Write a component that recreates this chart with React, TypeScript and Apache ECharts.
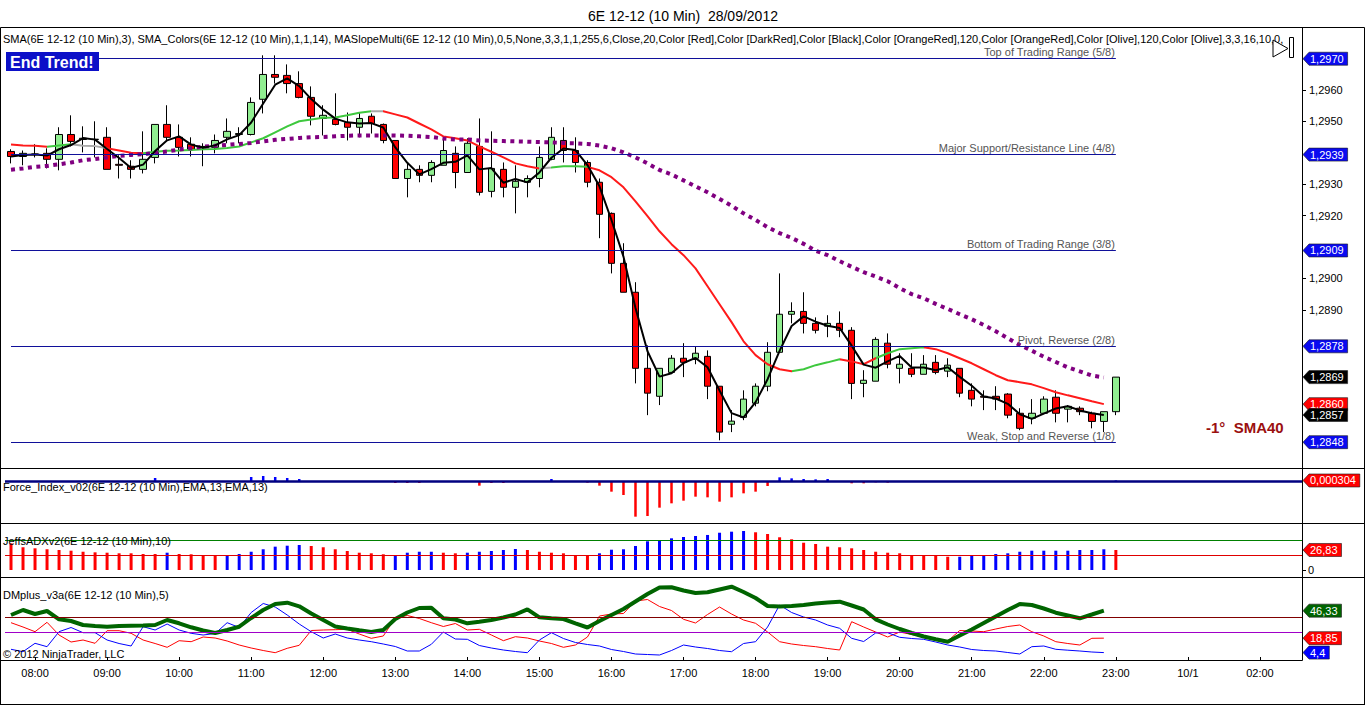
import React, { useEffect, useRef } from "react";
import * as echarts from "echarts";

const FONT = '"Liberation Sans", Arial, Helvetica, sans-serif';

// ---- time categories (10-minute bars; session break after 23:00) ----
function buildTimes(): string[] {
  const out: string[] = [];
  const pad = (n: number) => String(n).padStart(2, "0");
  for (let i = 0; i < 108; i++) {
    const m = i <= 92 ? 7 * 60 + 40 + 10 * i : 10 + 10 * (i - 93);
    const s = `${pad(Math.floor(m / 60) % 24)}:${pad(m % 60)}`;
    out.push(i > 92 && s === "01:00" ? "10/1" : s);
  }
  return out;
}
const times = buildTimes();

// ---- price bars ----
const opens = [
  1.29404, 1.29388, 1.29395, 1.29398, 1.29379, 1.29458, 1.29442, 1.29442, 1.29449, 1.29363,
  1.29357, 1.29347, 1.29385, 1.2949, 1.29449, 1.29427, 1.29417, 1.29417, 1.29449, 1.29458,
  1.29458, 1.2957, 1.29649, 1.29646, 1.2962, 1.29576, 1.29509, 1.29506, 1.29496, 1.29481,
  1.29516, 1.2949, 1.29439, 1.29318, 1.29347, 1.29328, 1.2936, 1.29398, 1.29337, 1.2942,
  1.29277, 1.29347, 1.2929, 1.29306, 1.29318, 1.29379, 1.29439, 1.29407, 1.29369, 1.29306,
  1.29207, 1.29048, 1.28956, 1.28714, 1.28625, 1.28701, 1.28746, 1.28746, 1.28752, 1.28657,
  1.28536, 1.28558, 1.28603, 1.28657, 1.28765, 1.28886, 1.28895, 1.28857, 1.28848, 1.28857,
  1.28835, 1.28666, 1.28673, 1.28794, 1.28714, 1.28714, 1.28695, 1.28733, 1.28705, 1.28714,
  1.28644, 1.28625, 1.28625, 1.28632, 1.28571, 1.28555, 1.28571, 1.28622, 1.28584, 1.28587,
  1.28571, 1.28545, 1.28576,
];
const closes = [
  1.29388, 1.29398, 1.29396, 1.29379, 1.29458, 1.29436, 1.29446, 1.29443, 1.29347, 1.2936,
  1.29347, 1.29379, 1.2949, 1.29449, 1.29417, 1.29411, 1.2942, 1.29439, 1.29468, 1.29461,
  1.2956, 1.29649, 1.2964, 1.2962, 1.29576, 1.29516, 1.29519, 1.2949, 1.29481, 1.29509,
  1.29493, 1.29439, 1.29318, 1.29347, 1.29328, 1.29369, 1.29407, 1.29337, 1.2943, 1.29274,
  1.2935, 1.2929, 1.29309, 1.29318, 1.29385, 1.29449, 1.29407, 1.29369, 1.29306, 1.29204,
  1.29048, 1.28956, 1.28714, 1.28635, 1.28714, 1.28746, 1.28733, 1.28762, 1.28657, 1.28511,
  1.28546, 1.28616, 1.28657, 1.28765, 1.28886, 1.28895, 1.28857, 1.28835, 1.28857, 1.28835,
  1.28666, 1.28676, 1.28806, 1.28727, 1.28727, 1.28695, 1.28727, 1.28701, 1.28724, 1.28635,
  1.28616, 1.28622, 1.28616, 1.28565, 1.28523, 1.28571, 1.28616, 1.28571, 1.28593, 1.28576,
  1.28545, 1.28576, 1.28686,
];
const lows = [
  1.29366, 1.2936, 1.29385, 1.2935, 1.29344, 1.2942, 1.29401, 1.29385, 1.29347, 1.29318,
  1.29318, 1.29334, 1.29366, 1.29439, 1.29388, 1.29388, 1.29357, 1.29398, 1.2943, 1.2943,
  1.29455, 1.29525, 1.2962, 1.29589, 1.29573, 1.29487, 1.29455, 1.29487, 1.29439, 1.29449,
  1.29461, 1.2943, 1.29318, 1.29258, 1.29306, 1.29306, 1.2936, 1.29287, 1.29337, 1.29264,
  1.29258, 1.29258, 1.29207, 1.29258, 1.2929, 1.29376, 1.29369, 1.29337, 1.2929, 1.29128,
  1.29016, 1.28956, 1.28666, 1.28565, 1.28597, 1.28701, 1.28686, 1.28727, 1.28616, 1.28485,
  1.28511, 1.28549, 1.28593, 1.28641, 1.28765, 1.28857, 1.28825, 1.28825, 1.28813, 1.28813,
  1.28616, 1.28622, 1.28673, 1.28714, 1.28666, 1.28686, 1.28695, 1.28695, 1.28686, 1.28622,
  1.28593, 1.28581, 1.28581, 1.28555, 1.28517, 1.28536, 1.28571, 1.28542, 1.28542, 1.28565,
  1.28523, 1.28511, 1.28565,
];
const highs = [
  1.29411, 1.29407, 1.29427, 1.29414, 1.29481, 1.29519, 1.29484, 1.295, 1.29481, 1.29392,
  1.29376, 1.29468, 1.2949, 1.29551, 1.2949, 1.29449, 1.2943, 1.29458, 1.29509, 1.29481,
  1.29576, 1.2971, 1.2971, 1.29681, 1.29659, 1.29611, 1.29551, 1.29589, 1.29528, 1.29528,
  1.29525, 1.29493, 1.29439, 1.29366, 1.2936, 1.29376, 1.29446, 1.2942, 1.29446, 1.29509,
  1.29468, 1.29369, 1.2936, 1.29328, 1.2942, 1.29481, 1.29481, 1.29449, 1.29376, 1.29318,
  1.2921, 1.29112, 1.28988, 1.28787, 1.28714, 1.28756, 1.28794, 1.28784, 1.28771, 1.28657,
  1.28581, 1.28644, 1.28666, 1.28797, 1.29016, 1.28924, 1.28956, 1.28876, 1.28883, 1.28895,
  1.28845, 1.28708, 1.28813, 1.28825, 1.28762, 1.28762, 1.28756, 1.28756, 1.28746, 1.28714,
  1.28666, 1.28644, 1.28657, 1.28635, 1.28587, 1.28616, 1.28625, 1.28644, 1.28597, 1.28593,
  1.28576, 1.28576, 1.28686,
];

// SMA_Colors (14) as drawn
const sma14 = [
  1.29426, 1.29423, 1.29422, 1.29419, 1.29423, 1.29427, 1.29422, 1.29421, 1.29414, 1.29407,
  1.294, 1.29398, 1.29403, 1.29406, 1.29407, 1.29409, 1.29411, 1.29412, 1.29415, 1.2942,
  1.29433, 1.29446, 1.29465, 1.29484, 1.295, 1.29506, 1.29511, 1.29512, 1.29519, 1.29527,
  1.29532, 1.29532, 1.29522, 1.29512, 1.29493, 1.29474, 1.29452, 1.29446, 1.29439, 1.2942,
  1.29403, 1.29385, 1.29366, 1.29357, 1.2935, 1.29353, 1.29357, 1.29357, 1.29355, 1.29344,
  1.29322, 1.2929, 1.29245, 1.29198, 1.2915, 1.29109, 1.29074, 1.29032, 1.28975, 1.28918,
  1.28861, 1.288, 1.28756, 1.28727, 1.28711, 1.28705, 1.28711, 1.28724, 1.28733, 1.28743,
  1.28736, 1.28727, 1.28746, 1.28762, 1.28775, 1.28778, 1.28781, 1.28775, 1.28762, 1.28746,
  1.2873, 1.28711, 1.28692, 1.28676, 1.2867, 1.28663, 1.28651, 1.28638, 1.28628, 1.28619,
  1.28609, 1.286,
];
// slope colour sections of SMA_Colors (by bar index)
const smaColorSections = [
  { from: -1, to: 3, trend: "down" },
  { from: 3, to: 5.3, trend: "up" },
  { from: 5.3, to: 7.5, trend: "flat" },
  { from: 7.5, to: 11, trend: "down" },
  { from: 11, to: 30, trend: "up" },
  { from: 30, to: 31.3, trend: "flat" },
  { from: 31.3, to: 43.8, trend: "down" },
  { from: 43.8, to: 44.8, trend: "flat" },
  { from: 44.8, to: 48.2, trend: "up" },
  { from: 48.2, to: 65, trend: "down" },
  { from: 65, to: 69.2, trend: "up" },
  { from: 69.2, to: 71.5, trend: "down" },
  { from: 71.5, to: 76.3, trend: "up" },
  { from: 76.3, to: 200, trend: "down" },
];

// SMA(40) dotted
const sma40 = [
  1.29346, 1.2935, 1.29355, 1.29358, 1.29363, 1.29369, 1.29376, 1.2938, 1.29385, 1.2939,
  1.29393, 1.29395, 1.294, 1.29404, 1.2941, 1.29414, 1.29419, 1.29422, 1.29425, 1.29428,
  1.29431, 1.29436, 1.29441, 1.29444, 1.29447, 1.29449, 1.2945, 1.29452, 1.29454, 1.29455,
  1.29455, 1.29455, 1.29455, 1.29454, 1.29452, 1.2945, 1.29445, 1.29442, 1.29442, 1.29439,
  1.29438, 1.29437, 1.29436, 1.29435, 1.29434, 1.29433, 1.29431, 1.2943, 1.29428, 1.29423,
  1.29414, 1.29401, 1.29385, 1.29366, 1.29345, 1.29331, 1.29312, 1.29293, 1.29274, 1.29253,
  1.29231, 1.29207, 1.29186, 1.29163, 1.29144, 1.29129, 1.2911, 1.29088, 1.29074, 1.29055,
  1.29037, 1.2902, 1.29006, 1.28991, 1.28969, 1.2895, 1.28937, 1.28919, 1.28903, 1.28886,
  1.2887, 1.28852, 1.28832, 1.2881, 1.28788, 1.2877, 1.28751, 1.28734, 1.28717, 1.28704,
  1.28691, 1.28685,
];

// Murrey math levels
const murreyLevels = [1.29699, 1.29394, 1.29089, 1.28784, 1.28479];
const murreyNames = [
  "Top of Trading Range (5/8)",
  "Major Support/Resistance Line (4/8)",
  "Bottom of Trading Range (3/8)",
  "Pivot, Reverse (2/8)",
  "Weak, Stop and Reverse (1/8)",
];
const priceTicks = [1.296, 1.295, 1.293, 1.292, 1.29, 1.289];

// Force index
const forceIndex = [
  0, 0, 0, 0, 0, 0, 0, 0, 0, 0, 0, 0, 0.0018, 0, 0, 0, 0, 0, 0, 0,
  0.0024, 0.003, 0.0024, 0.0018, 0.0012, 0, 0, 0, 0, 0, 0, 0,
  -0.0012, -0.0012, -0.0012, -0.0006, 0, -0.0006, 0, -0.0028, -0.0012, -0.0012, -0.0006, -0.0006, 0, 0.0012, 0, 0,
  -0.001, -0.0028, -0.0064, -0.0084, -0.0214, -0.021, -0.016, -0.0134, -0.0118, -0.0094, -0.0098, -0.0124, -0.0098, -0.0074, -0.0064, -0.003,
  0.0022, 0.0016, 0.0012, 0.001, 0.0012, 0, -0.0014, -0.0014, -0.0008, -0.001,
  -0.0004, -0.0004, -0.0004, -0.0004, -0.0004, -0.0004, -0.0004, -0.0004, -0.0004, -0.0004, -0.0004, -0.0004,
  0, 0, 0, 0, 0, 0, 0.000304,
];

// JeffsADX
const adx = [
  35.8, 30.5, 29.1, 27.8, 26.8, 25.9, 24.5, 23.7, 23.2, 22.4,
  22.4, 21.5, 21.5, 23.2, 21.5, 21.1, 20.1, 19.2, 20.1, 21.5,
  24.5, 27.8, 31.3, 32.6, 33.5, 32.2, 30.5, 27.8, 25.5, 23.2,
  22.4, 21.1, 19.2, 23.2, 24.5, 24.5, 23.2, 22.4, 23.2, 24.5,
  25.5, 26.8, 28.2, 26.8, 24.5, 23.2, 22.4, 20.1, 19.2, 22.4,
  27.2, 27.8, 32.2, 38.5, 40.2, 42.5, 44.3, 45.6, 47.0, 50.0,
  51.4, 52.3, 50.6, 48.3, 43.9, 41.2, 36.6, 34.9, 31.3, 30.5,
  29.1, 26.8, 24.5, 23.2, 22.4, 20.1, 19.2, 19.2, 17.8, 17.8,
  19.2, 20.1, 21.5, 22.4, 24.5, 25.9, 25.9, 25.9, 25.9, 26.8,
  26.8, 27.8, 26.83,
];
// +1 = +DI dominant (blue), -1 = -DI dominant (red)
const adxDir = [
  -1, -1, -1, -1, -1, -1, -1, -1, -1, -1, -1, -1, -1,
  1,
  -1, -1, -1, -1,
  1, 1, 1, 1, 1, 1, 1,
  -1, -1, -1, -1, -1, -1, -1,
  1, 1, 1, 1,
  -1, -1,
  1, 1, 1, 1, 1,
  -1, -1, -1, -1, -1, -1,
  1, 1, 1, 1, 1, 1, 1, 1, 1, 1, 1, 1, 1,
  -1, -1, -1, -1, -1, -1, -1, -1, -1, -1, -1, -1, -1, -1, -1, -1, -1,
  1, 1, 1, 1, 1, 1, 1, 1, 1, 1, 1, 1, 1,
  -1,
];

// DMplus
const dmAdx = [
  42, 47, 43, 46, 37.7, 36, 32, 31, 30.3, 31,
  31.3, 31.5, 32, 37, 33.7, 29.7, 26.5, 24, 27, 30.3,
  39, 47, 53, 54.3, 50.7, 43.5, 37, 30.5, 28.5, 26.7,
  25, 27, 38, 44.5, 49, 49.3, 38.7, 37.5, 33.7, 35.3,
  37, 39.5, 42.5, 47.7, 39.7, 38.7, 38, 33.7, 29.5, 36,
  42, 48, 55.5, 63, 69.5, 69.8, 66.5, 64, 64.7, 67.5,
  70.3, 65, 59, 51, 50.5, 51, 52, 53.5, 54.5, 55.3,
  51.5, 47.5, 37.7, 32.5, 28, 24, 20.5, 17.7, 15.3, 21.5,
  27.5, 34, 40.5, 47, 53, 52, 48.5, 44.3, 41.5, 38.7,
  42.5, 46.33,
];
const diMinus = [
  34.3, 30, 25.3, 34.7, 22, 15, 17, 13.7, 26.3, 26.3,
  23.7, 17, 13.5, 9.7, 16.3, 15.3, 20, 19, 16, 12,
  9, 6.5, 4.3, 8.7, 11.7, 26.5, 27, 27.3, 27.7, 23,
  18.7, 21, 39, 41.5, 38.5, 34.3, 30.5, 33.5, 27, 27.7,
  22, 16.3, 20.3, 19, 16, 13.5, 9.7, 12, 20, 41,
  43, 43.5, 56, 57.5, 50.5, 46.5, 37.7, 34, 42.5, 50,
  43, 37, 33.7, 25, 15.3, 13, 11.5, 10.3, 8.5, 7,
  35.3, 30, 25, 20, 25, 22.5, 20, 18, 16, 26.5,
  26, 25.3, 28, 30.5, 32, 25.3, 21, 15.3, 13.5, 12,
  18.7, 18.85,
];
const diPlus = [
  7.7, 5.3, 13.7, 10.3, 25.3, 29.5, 24.3, 24.3, 17, 13.5,
  11, 30.3, 27, 33, 27, 23.7, 22, 23.5, 34.3, 29.5,
  44.5, 53.5, 50, 42, 33, 25.3, 19, 23, 19, 17,
  15.3, 13, 10.5, 6, 6, 12.7, 25, 18, 17.7, 11.5,
  9, 7, 5.5, 4.3, 17, 24.3, 18.5, 14.5, 12.5, 11,
  7.5, 5.5, 3, 2.5, 2, 6.5, 12, 10, 8.5, 6.5,
  5.3, 13.5, 15.3, 30, 52, 44.5, 40, 37, 32, 28.7,
  18.7, 15.5, 24, 24.3, 19.7, 18.5, 17.7, 15, 12, 10,
  7.5, 6.5, 6, 4.5, 3, 10.3, 11, 7.7, 6.8, 6,
  5, 4.4,
];

const priceHeader =
  "SMA(6E 12-12 (10 Min),3), SMA_Colors(6E 12-12 (10 Min),1,1,14), MASlopeMulti(6E 12-12 (10 Min),0,5,None,3,3,1,1,255,6,Close,20,Color [Red],Color [DarkRed],Color [Black],Color [OrangeRed],120,Color [OrangeRed],Color [Olive],120,Color [Olive],3,3,16,10,0,";

const trendColor: Record<string, string> = { up: "#3ec83e", down: "#ff1a1a", flat: "#a8a8a8" };

export default function App() {
  const ref = useRef<HTMLDivElement>(null);
  useEffect(() => {
    document.body.style.margin = "0";
    const el = ref.current!;
    const chart = echarts.init(el, null, { renderer: "svg" });

    const candles = opens.map((o, i) => [o, closes[i], lows[i], highs[i]]);
    // SMA(3) of close, computed on closed bars only (last bar still forming)
    const sma3 = closes.slice(0, 92).map((_, i) => {
      const w = closes.slice(Math.max(0, i - 2), i + 1);
      return w.reduce((a, b) => a + b, 0) / w.length;
    });

    const showTimeLabel = (_: number, v: string) => v === "10/1" || v.endsWith(":00");

    const xBase = (gi: number) => ({
      type: "category" as const,
      gridIndex: gi,
      data: times,
      boundaryGap: true,
      axisLine: { show: false },
      axisTick: { show: false },
      axisLabel: { show: false },
      splitLine: { show: false },
    });

    const yBase = (gi: number, min: number, max: number) => ({
      type: "value" as const,
      gridIndex: gi,
      position: "right" as const,
      min,
      max,
      scale: true,
      splitLine: { show: false },
      axisLine: { show: false },
      axisTick: { show: false },
      axisLabel: { show: false },
    });

    const option: any = {
      animation: false,
      textStyle: { fontFamily: FONT },
      title: {
        text: "6E 12-12 (10 Min)  28/09/2012",
        left: "center",
        top: 4,
        textStyle: { fontSize: 14, fontWeight: "normal", color: "#000", fontFamily: FONT },
      },
      grid: [
        { left: 5, right: 64, top: 27, height: 440 },
        { left: 5, right: 64, top: 468, height: 55 },
        { left: 5, right: 64, top: 523, height: 54 },
        { left: 5, right: 64, top: 577, height: 83 },
      ],
      xAxis: [
        xBase(0),
        xBase(1),
        xBase(2),
        {
          ...xBase(3),
          axisTick: {
            show: true,
            alignWithLabel: true,
            interval: showTimeLabel,
            length: 4,
            lineStyle: { color: "#000" },
          },
          axisLabel: {
            show: true,
            interval: showTimeLabel,
            color: "#000",
            fontSize: 11,
            fontFamily: FONT,
            margin: 7,
          },
        },
      ],
      yAxis: [
        {
          ...yBase(0, 1.284, 1.298),
          axisTick: { show: true, length: 4, customValues: priceTicks, lineStyle: { color: "#000" } },
          axisLabel: {
            show: true,
            customValues: priceTicks,
            formatter: (v: number) => v.toFixed(4).replace(".", ","),
            color: "#000",
            fontSize: 11,
            fontFamily: FONT,
            margin: 7,
          },
        },
        yBase(1, -0.0252, 0.0078),
        {
          ...yBase(2, -9.4, 63.05),
          axisTick: { show: true, length: 4, customValues: [0], lineStyle: { color: "#000" } },
          axisLabel: {
            show: true,
            customValues: [0],
            formatter: () => "0",
            color: "#000",
            fontSize: 11,
            fontFamily: FONT,
            margin: 6,
          },
        },
        yBase(3, -3, 80),
      ],
      visualMap: {
        type: "piecewise",
        show: false,
        dimension: 0,
        seriesIndex: 1,
        pieces: smaColorSections.map((s) => ({ gte: s.from, lt: s.to, color: trendColor[s.trend] })),
      },
      series: [
        {
          type: "candlestick",
          xAxisIndex: 0,
          yAxisIndex: 0,
          barWidth: 7,
          data: candles,
          itemStyle: {
            color: "#90ee90",
            color0: "#ff0000",
            borderColor: "#000",
            borderColor0: "#000",
            borderColorDoji: "#000",
            borderWidth: 1,
          },
        },
        {
          type: "line",
          xAxisIndex: 0,
          yAxisIndex: 0,
          data: sma14,
          showSymbol: false,
          symbol: "none",
          lineStyle: { width: 2 },
        },
        {
          type: "line",
          xAxisIndex: 0,
          yAxisIndex: 0,
          data: sma40,
          showSymbol: false,
          symbol: "none",
          lineStyle: { color: "#800080", width: 4, type: [4, 4.5], cap: "butt" },
        },
        {
          type: "line",
          xAxisIndex: 0,
          yAxisIndex: 0,
          data: sma3,
          showSymbol: false,
          symbol: "none",
          lineStyle: { color: "#000", width: 2 },
          markLine: {
            symbol: "none",
            silent: true,
            animation: false,
            lineStyle: { color: "#10109a", width: 1, type: "solid" },
            label: {
              show: true,
              position: "insideEndTop",
              formatter: "{b}",
              color: "#555",
              fontSize: 11,
              fontFamily: FONT,
              distance: 1,
            },
            data: murreyLevels.map((v, k) => [
              { name: murreyNames[k], coord: [0, v] },
              { coord: [92, v] },
            ]),
          },
        },
        {
          type: "bar",
          xAxisIndex: 1,
          yAxisIndex: 1,
          barWidth: 2.5,
          data: forceIndex,
          itemStyle: { color: (p: any) => (p.value >= 0 ? "#0000ff" : "#ff0000") },
          markLine: {
            symbol: "none",
            silent: true,
            label: { show: false },
            lineStyle: { color: "#000080", width: 2.5, type: "solid" },
            data: [{ yAxis: 0 }],
          },
        },
        {
          type: "bar",
          xAxisIndex: 2,
          yAxisIndex: 2,
          barWidth: 3,
          data: adx,
          itemStyle: { color: (p: any) => (adxDir[p.dataIndex] > 0 ? "#0000ff" : "#ff0000") },
          markLine: {
            symbol: "none",
            silent: true,
            label: { show: false },
            data: [
              { yAxis: 40, lineStyle: { color: "#008000", width: 1, type: "solid" } },
              { yAxis: 20, lineStyle: { color: "#e00000", width: 1, type: "solid" } },
            ],
          },
        },
        {
          type: "line",
          xAxisIndex: 3,
          yAxisIndex: 3,
          data: diMinus,
          showSymbol: false,
          symbol: "none",
          lineStyle: { color: "#ff0000", width: 1 },
          markLine: {
            symbol: "none",
            silent: true,
            label: { show: false },
            data: [
              { yAxis: 40, lineStyle: { color: "#800000", width: 1, type: "solid" } },
              { yAxis: 25, lineStyle: { color: "#a000c8", width: 1, type: "solid" } },
            ],
          },
        },
        {
          type: "line",
          xAxisIndex: 3,
          yAxisIndex: 3,
          data: diPlus,
          showSymbol: false,
          symbol: "none",
          lineStyle: { color: "#0000ff", width: 1 },
        },
        {
          type: "line",
          xAxisIndex: 3,
          yAxisIndex: 3,
          data: dmAdx,
          showSymbol: false,
          symbol: "none",
          lineStyle: { color: "#006400", width: 4 },
        },
      ],
    };
    chart.setOption(option);

    // ---- overlay: frame, labels, value flags ----
    const py = (v: number, axis: number) => chart.convertToPixel({ yAxisIndex: axis } as any, v) as number;
    const g: any[] = [];
    let z = 100;
    const line = (x1: number, y1: number, x2: number, y2: number, w = 1) =>
      g.push({
        type: "line",
        z: z++,
        shape: { x1, y1, x2, y2 },
        style: { stroke: "#000", lineWidth: w },
        silent: true,
      });
    const text = (x: number, y: number, t: string, extra: any = {}) =>
      g.push({
        type: "text",
        z: z++,
        x,
        y,
        silent: true,
        style: { text: t, fill: "#000", fontSize: 11, fontFamily: FONT, verticalAlign: "middle", ...extra },
      });
    const charW = (c: string) => (c === "," || c === "." ? 3.1 : 6.1);
    const flag = (y: number, t: string, fill: string, color = "#fff") => {
      const w = [...t].reduce((a, c) => a + charW(c), 0) + 5;
      g.push({
        type: "polygon",
        z: z++,
        silent: true,
        shape: {
          points: [
            [1303, y],
            [1309, y - 6.5],
            [1309 + w, y - 6.5],
            [1309 + w, y + 6.5],
            [1309, y + 6.5],
          ],
        },
        style: { fill, stroke: "#1a1a1a", lineWidth: 0.6 },
      });
      text(1310, y, t, { fill: color });
    };
    const comma = (v: number, d?: number) => (d === undefined ? String(v) : v.toFixed(d)).replace(".", ",");

    // frame
    line(0.5, 27.5, 1364.5, 27.5);
    line(0.5, 27.5, 0.5, 705);
    line(1364.5, 27.5, 1364.5, 705);
    line(0.5, 704.5, 1364.5, 704.5);
    line(1302.5, 27.5, 1302.5, 660.5);
    line(0.5, 468.5, 1364.5, 468.5);
    line(0.5, 523.5, 1364.5, 523.5);
    line(0.5, 577.5, 1364.5, 577.5);
    line(0.5, 660.5, 1302.5, 660.5);

    // indicator captions
    text(3, 39, priceHeader, { width: 1297, overflow: "truncate", ellipsis: "" });
    text(3, 487, "Force_Index_v02(6E 12-12 (10 Min),EMA,13,EMA,13)");
    text(3, 541, "JeffsADXv2(6E 12-12 (10 Min),10)");
    text(3, 595, "DMplus_v3a(6E 12-12 (10 Min),5)");
    text(3, 654, "\u00A9 2012 NinjaTrader, LLC");

    // End Trend! box
    g.push({
      type: "rect",
      z: z++,
      silent: true,
      shape: { x: 6, y: 52, width: 93, height: 19 },
      style: { fill: "#0c10c8" },
    });
    text(10, 62, "End Trend!", { fill: "#fff", fontSize: 16, fontWeight: "bold" });

    // slope note
    text(1206, 427, "-1\u00B0  SMA40", { fill: "#9b1010", fontSize: 15, fontWeight: "bold" });

    // play-to-end icon
    g.push({
      type: "polygon",
      z: z++,
      silent: true,
      shape: { points: [[1273, 40], [1273, 57], [1288, 48.5]] },
      style: { fill: "#fff", stroke: "#000", lineWidth: 1 },
    });
    g.push({
      type: "rect",
      z: z++,
      silent: true,
      shape: { x: 1289.5, y: 37.5, width: 4, height: 20 },
      style: { fill: "#fff", stroke: "#000", lineWidth: 1 },
    });

    // price flags
    murreyLevels.forEach((v) => flag(py(v, 0), comma(v, 4), "#0a0af0"));
    const lastClose = closes[closes.length - 1];
    flag(py(lastClose, 0), comma(lastClose, 4), "#000");
    const lastSma14 = sma14[sma14.length - 1];
    flag(py(lastSma14, 0), comma(lastSma14, 4), "#ff0000");
    const lastSma3 = sma3[sma3.length - 1];
    flag(py(lastSma3, 0), comma(lastSma3, 4), "#000");

    // indicator flags
    const lastForce = forceIndex[forceIndex.length - 1];
    flag(py(lastForce, 1), comma(lastForce), "#ff0000");
    const lastAdx = adx[adx.length - 1];
    flag(py(lastAdx, 2), comma(lastAdx), "#ff0000");
    const lastDm = dmAdx[dmAdx.length - 1];
    flag(py(lastDm, 3), comma(lastDm), "#006400");
    const lastMinus = diMinus[diMinus.length - 1];
    flag(py(lastMinus, 3), comma(lastMinus), "#ff0000");
    const lastPlus = diPlus[diPlus.length - 1];
    flag(py(lastPlus, 3), comma(lastPlus), "#0000ff");

    chart.setOption({ graphic: g });

    return () => chart.dispose();
  }, []);

  return (
    <div
      ref={ref}
      style={{ position: "fixed", left: 0, top: 0, width: 1366, height: 706, background: "#fff" }}
    />
  );
}
